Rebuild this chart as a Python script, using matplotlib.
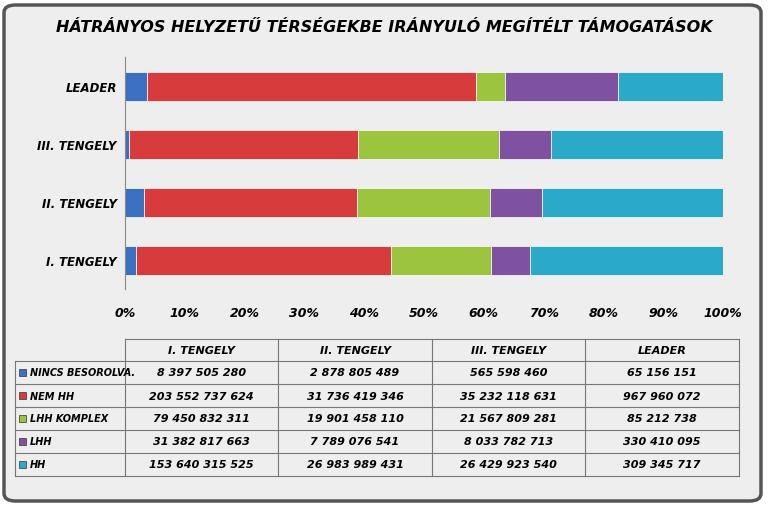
import matplotlib
matplotlib.use("Agg")
import matplotlib.pyplot as plt
import numpy as np
from matplotlib.lines import Line2D
from matplotlib.patches import FancyBboxPatch, Rectangle

categories = ["I. TENGELY", "II. TENGELY", "III. TENGELY", "LEADER"]
series_names = ["NINCS BESOROLVA.", "NEM HH", "LHH KOMPLEX", "LHH", "HH"]
nincs = [8397505280, 2878805489, 565598460, 65156151]
nem_hh = [203552737624, 31736419346, 35232118631, 967960072]
lhh_komplex = [79450832311, 19901458110, 21567809281, 85212738]
lhh = [31382817663, 7789076541, 8033782713, 330410095]
hh = [153640315525, 26983989431, 26429923540, 309345717]
series = [nincs, nem_hh, lhh_komplex, lhh, hh]
colors = ["#3b6fc2", "#d83b3b", "#9cc43f", "#7e51a1", "#2ba9c9"]

W, H = 769, 506
fig = plt.figure(figsize=(W/100, H/100), dpi=100)
fig.patch.set_facecolor("white")
fig.add_artist(FancyBboxPatch((4/W, 4/H), 1-12/W, 1-10/H, boxstyle="round,pad=0,rounding_size=0.015",
                              transform=fig.transFigure, facecolor="#eeeeee", edgecolor="#555555",
                              lw=2.5, zorder=-10))
fig.text(0.5, 1-28/H, "HÁTRÁNYOS HELYZETŰ TÉRSÉGEKBE IRÁNYULÓ MEGÍTÉLT TÁMOGATÁSOK",
         ha="center", va="center", fontsize=11.5, fontweight="bold", style="italic")

ax = fig.add_axes([125/W, 1-290/H, (723-125)/W, (290-58)/H])
ax.set_facecolor("none")
data = np.array(series, dtype=float)
pct = data / data.sum(axis=0) * 100
y = np.arange(len(categories))
left = np.zeros(len(categories))
for vals, c in zip(pct, colors):
    ax.barh(y, vals, left=left, color=c, height=0.5, edgecolor="white", lw=0.5)
    left += vals
ax.set_xlim(0, 100)
ax.set_ylim(-0.5, 3.5)
ax.set_xticks(np.arange(0, 101, 10))
ax.set_xticklabels([f"{v}%" for v in range(0, 101, 10)], fontsize=9, fontweight="bold", style="italic")
ax.set_yticks(y)
ax.set_yticklabels(categories, fontsize=8.5, fontweight="bold", style="italic")
for s in ["top", "right", "bottom"]:
    ax.spines[s].set_visible(False)
ax.spines["left"].set_color("#888888")
ax.tick_params(length=0, pad=6)
ax.tick_params(axis="x", pad=12)

# table
xs = [15, 125, 278, 432, 585, 739]
ys = [340, 362, 385, 408, 431, 454, 477]
def L(x0, y0, x1, y1):
    fig.add_artist(Line2D([x0/W, x1/W], [1-y0/H, 1-y1/H], color="#777777", lw=0.8))
L(xs[1], ys[0], xs[-1], ys[0])
for yy in ys[1:]:
    L(xs[0], yy, xs[-1], yy)
L(xs[0], ys[1], xs[0], ys[-1])
for xx in xs[1:]:
    L(xx, ys[0], xx, ys[-1])
for j, cat in enumerate(categories):
    fig.text((xs[j+1]+xs[j+2])/2/W, 1-(ys[0]+ys[1])/2/H, cat, ha="center", va="center",
             fontsize=8, fontweight="bold", style="italic")
for i, (name, vals, c) in enumerate(zip(series_names, series, colors)):
    yc = 1-(ys[i+1]+ys[i+2])/2/H
    fig.add_artist(Rectangle((19/W, yc-3.5/H), 7/W, 7/H, transform=fig.transFigure, facecolor=c, edgecolor="#333333", lw=0.5))
    fig.text(30/W, yc, name, ha="left", va="center", fontsize=7, fontweight="bold", style="italic")
    for j, v in enumerate(vals):
        s = f"{v:,}".replace(",", " ")
        fig.text((xs[j+1]+xs[j+2])/2/W, yc, s, ha="center", va="center", fontsize=8, fontweight="bold", style="italic")

fig.savefig("out.png", dpi=100)
